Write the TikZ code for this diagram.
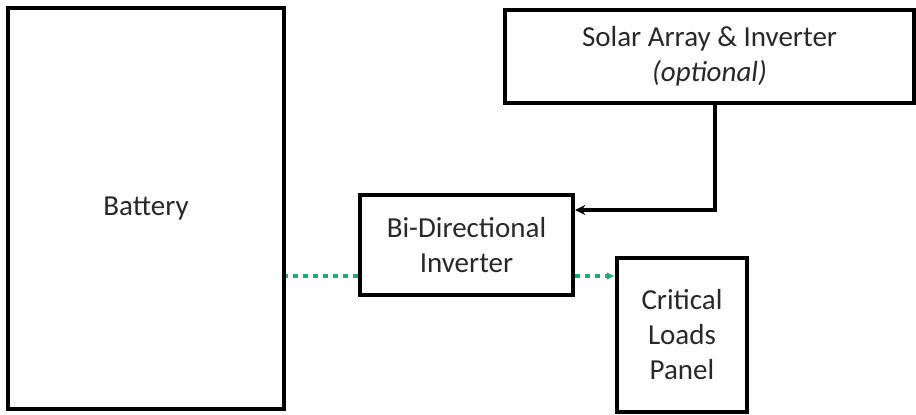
\documentclass[tikz,border=0pt]{standalone}
\usepackage{fontspec}
\setmainfont{Carlito}
\usepackage{xcolor}
\usetikzlibrary{arrows.meta,positioning,calc}
\definecolor{linkgreen}{RGB}{36,168,118}
\definecolor{textgrey}{RGB}{40,40,40}

\begin{document}
\begin{tikzpicture}[
  x=1pt, y=-1pt,
  node distance=76pt and 76pt,
  box/.style={draw, line width=4.4pt, align=center, text=textgrey, font=\fontsize{29}{35}\selectfont, inner sep=2pt},
  line/.style={-{Stealth[length=10pt,width=10pt]}, line width=4pt},
  dcline/.style={line width=4pt, color=linkgreen, dash pattern=on 5pt off 5pt},
  acline/.style={line width=4pt, color=linkgreen, dash pattern=on 5pt off 5pt, -{Latex[length=8pt,width=8pt]}}
]
\useasboundingbox (0,0) rectangle (916,415);

\node[box, minimum width=276pt, minimum height=401pt] (battery) at (146,208.5) {Battery};
\node[box, minimum width=213pt, minimum height=100pt] (inverter) at (466.5,245) {Bi-Directional\\Inverter};
\node[box, minimum width=130pt, minimum height=154pt] (panel) at (682,335) {Critical\\Loads\\Panel};
\node[box, minimum width=409pt, minimum height=93pt] (solar) at (709.5,56.5) {Solar Array \& Inverter\\\textit{(optional)}};

\coordinate (solarout) at ([xshift=5.5pt]solar.south);
\coordinate (invin) at ([yshift=35pt]inverter.east);
\coordinate (invdc) at ([yshift=-31pt]inverter.west);
\coordinate (invac) at ([yshift=-31pt]inverter.east);

\draw[line] (solarout) |- (invin);
\draw[dcline] (invdc) -- (battery.east |- invdc);
\draw[acline] (invac) -- (panel.west |- invac);
\end{tikzpicture}
\end{document}
